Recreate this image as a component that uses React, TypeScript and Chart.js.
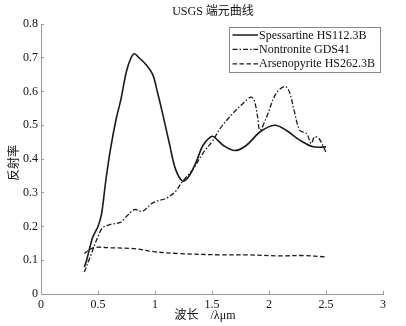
import { useEffect, useRef } from "react";
import { Chart, registerables } from "chart.js";

Chart.register(...registerables);

const chartTitle = "USGS 端元曲线";
const xAxisTitle = "波长\u3000/λμm";
const yAxisTitle = "反射率";
const xTickValues = [0, 0.5, 1, 1.5, 2, 2.5, 3];
const yTickValues = [0, 0.1, 0.2, 0.3, 0.4, 0.5, 0.6, 0.7, 0.8];
const seriesNames = ["Spessartine HS112.3B", "Nontronite GDS41", "Arsenopyrite HS262.3B"];

const spessX = [0.38, 0.4, 0.43, 0.45, 0.47, 0.5, 0.53, 0.57, 0.61, 0.66, 0.7, 0.75, 0.79, 0.82, 0.86, 0.92, 0.98, 1.02, 1.07, 1.13, 1.18, 1.24, 1.29, 1.36, 1.42, 1.49, 1.52, 1.6, 1.7, 1.8, 1.92, 2.05, 2.15, 2.27, 2.39, 2.5];
const spessY = [0.08, 0.1, 0.14, 0.165, 0.18, 0.2, 0.235, 0.34, 0.43, 0.52, 0.575, 0.66, 0.7, 0.712, 0.7, 0.68, 0.65, 0.6, 0.53, 0.44, 0.37, 0.335, 0.345, 0.39, 0.44, 0.466, 0.465, 0.44, 0.425, 0.44, 0.48, 0.5, 0.485, 0.456, 0.436, 0.436];

const nontX = [0.38, 0.42, 0.47, 0.5, 0.54, 0.61, 0.7, 0.75, 0.82, 0.89, 0.98, 1.1, 1.18, 1.24, 1.33, 1.42, 1.51, 1.57, 1.68, 1.77, 1.84, 1.87, 1.9, 1.92, 1.98, 2.06, 2.14, 2.18, 2.22, 2.27, 2.33, 2.37, 2.4, 2.44, 2.5];
const nontY = [0.065, 0.1, 0.145, 0.17, 0.196, 0.206, 0.213, 0.23, 0.25, 0.245, 0.27, 0.284, 0.304, 0.333, 0.368, 0.417, 0.456, 0.49, 0.534, 0.564, 0.583, 0.574, 0.525, 0.485, 0.525, 0.593, 0.615, 0.598, 0.544, 0.485, 0.475, 0.446, 0.466, 0.46, 0.42];

const arsenX = [0.38, 0.42, 0.47, 0.6, 0.83, 1.0, 1.2, 1.57, 1.8, 2.1, 2.3, 2.5];
const arsenY = [0.12, 0.13, 0.138, 0.137, 0.134, 0.125, 0.12, 0.116, 0.116, 0.113, 0.114, 0.11];

const SERIF = '"Liberation Serif", "Noto Sans CJK SC", serif';
const LINE = "#1a1a1a";
const AXIS = "#9a9a9a";
const dashes: number[][] = [[], [5, 2, 1.5, 2], [4.5, 2.5]];

const toPoints = (xs: number[], ys: number[]) => xs.map((x, i) => ({ x, y: ys[i] }));

const overlay = {
  id: "overlay",
  afterDraw(chart: any) {
    const ctx = chart.ctx as CanvasRenderingContext2D;
    const a = chart.chartArea;
    ctx.save();
    ctx.fillStyle = "#111";
    ctx.font = `12px ${SERIF}`;
    ctx.textAlign = "center";
    ctx.textBaseline = "middle";
    ctx.fillText(chartTitle, (a.left + a.right) / 2 + 1, 12);
    ctx.fillText(xAxisTitle, (a.left + a.right) / 2 - 7, 316);
    ctx.save();
    ctx.translate(15, (a.top + a.bottom) / 2 + 4);
    ctx.rotate(-Math.PI / 2);
    ctx.fillText(yAxisTitle, 0, 0);
    ctx.restore();

    // legend
    const bx = a.right - 154;
    const by = a.top + 3;
    const bw = 151;
    const bh = 45;
    ctx.fillStyle = "#fff";
    ctx.fillRect(bx, by, bw, bh);
    ctx.strokeStyle = "#8a8a8a";
    ctx.lineWidth = 1;
    ctx.strokeRect(bx + 0.5, by + 0.5, bw, bh);
    ctx.textAlign = "left";
    seriesNames.forEach((name, i) => {
      const y = by + 8 + i * 14.4;
      ctx.strokeStyle = LINE;
      ctx.lineWidth = i === 0 ? 1.5 : 1.2;
      ctx.setLineDash(dashes[i]);
      ctx.beginPath();
      ctx.moveTo(bx + 3.5, y);
      ctx.lineTo(bx + 29, y);
      ctx.stroke();
      ctx.setLineDash([]);
      ctx.fillStyle = "#111";
      ctx.fillText(name, bx + 30, y + 0.5);
    });
    ctx.restore();
  },
};

export default function App() {
  const ref = useRef<HTMLCanvasElement | null>(null);
  useEffect(() => {
    document.body.style.margin = "0";
    if (!ref.current) return;
    const mk = (i: number, xs: number[], ys: number[]) => ({
      label: seriesNames[i],
      data: toPoints(xs, ys),
      borderColor: LINE,
      borderWidth: i === 0 ? 1.6 : 1.3,
      borderDash: dashes[i],
      pointRadius: 0,
      fill: false,
      tension: 0.35,
    });
    const chart = new Chart(ref.current, {
      type: "line",
      data: {
        datasets: [mk(0, spessX, spessY), mk(1, nontX, nontY), mk(2, arsenX, arsenY)],
      },
      options: {
        animation: false,
        responsive: false,
        maintainAspectRatio: false,
        layout: { padding: { top: 24, right: 23, left: 0, bottom: 0 } },
        plugins: { legend: { display: false }, title: { display: false }, tooltip: { enabled: false } },
        scales: {
          x: {
            type: "linear",
            min: 0,
            max: 3,
            afterBuildTicks: (s: any) => {
              s.ticks = xTickValues.map((v) => ({ value: v }));
            },
            afterFit: (s: any) => {
              s.height = 32;
            },
            ticks: {
              color: "#111",
              font: { family: SERIF, size: 12 },
              padding: 7,
              maxRotation: 0,
              autoSkip: false,
              callback: (v: any) => String(+Number(v).toFixed(1)),
            },
            grid: { drawOnChartArea: false, drawTicks: true, tickLength: -3, color: AXIS },
            border: { display: true, color: AXIS, width: 1 },
          },
          y: {
            type: "linear",
            min: 0,
            max: 0.8,
            afterBuildTicks: (s: any) => {
              s.ticks = yTickValues.map((v) => ({ value: v }));
            },
            afterFit: (s: any) => {
              s.width = 41;
            },
            ticks: {
              color: "#111",
              font: { family: SERIF, size: 12 },
              padding: 6,
              autoSkip: false,
              callback: (v: any) => String(+Number(v).toFixed(1)),
            },
            grid: { drawOnChartArea: false, drawTicks: true, tickLength: -3, color: AXIS },
            border: { display: true, color: AXIS, width: 1 },
          },
        },
      },
      plugins: [overlay],
    } as any);
    return () => chart.destroy();
  }, []);
  return (
    <div style={{ width: 406, height: 326, background: "#fff" }}>
      <canvas ref={ref} width={406} height={326} style={{ display: "block" }} />
    </div>
  );
}
